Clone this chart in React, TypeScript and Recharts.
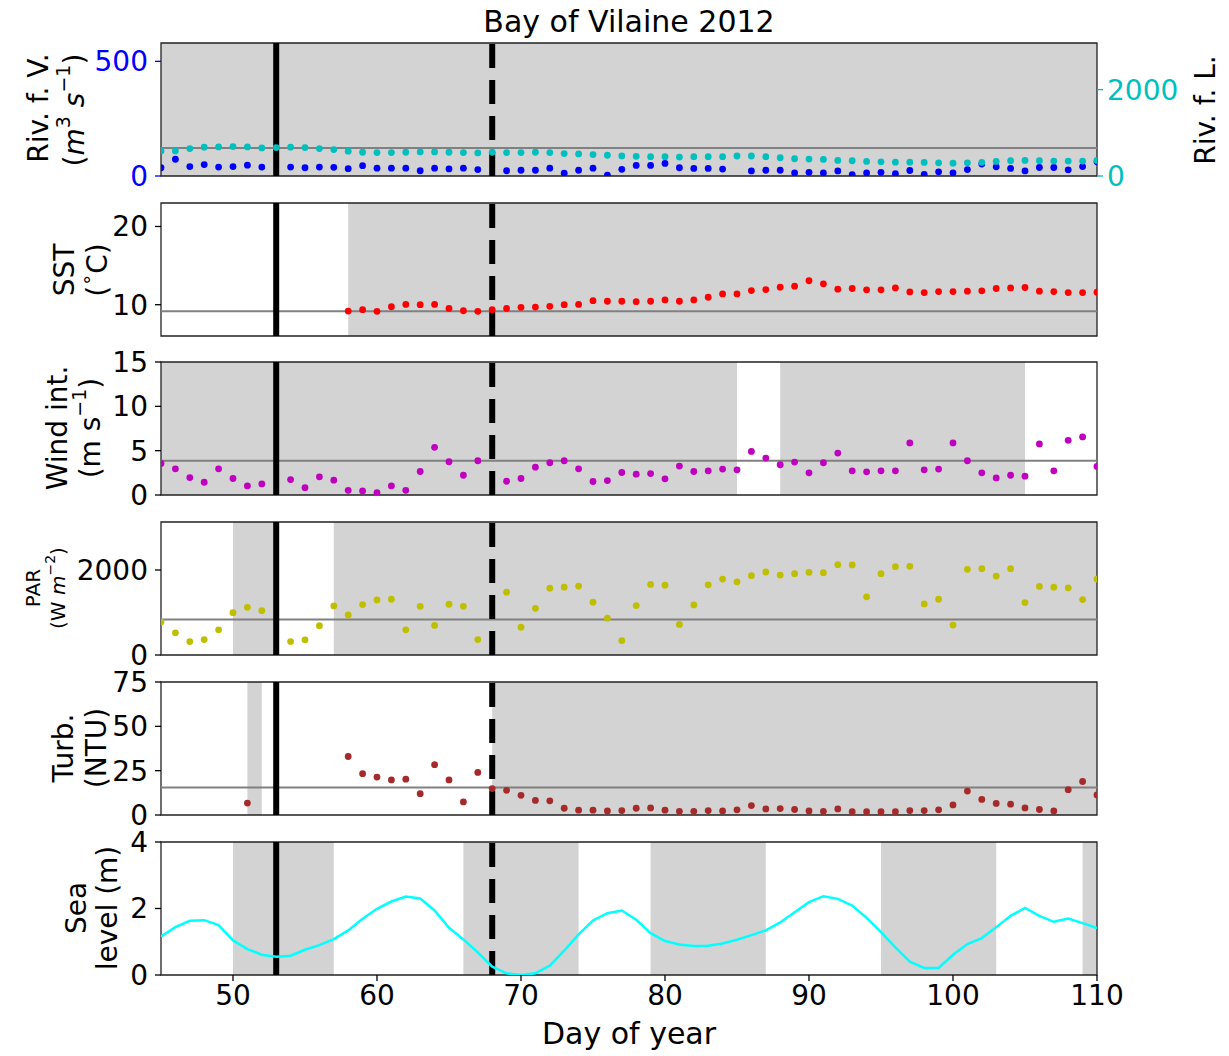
import React from 'react';
import { ComposedChart, Scatter, Line, XAxis, YAxis, ReferenceArea, ReferenceLine } from 'recharts';

const days = [45,46,47,48,49,50,51,52,53,54,55,56,57,58,59,60,61,62,63,64,65,66,67,68,69,70,71,72,73,74,75,76,77,
  78,79,80,81,82,83,84,85,86,87,88,89,90,91,92,93,94,95,96,97,98,99,100,101,102,103,104,105,106,107,108,109,110];

const riverVilaine = [36,73,41,50,39,41,47,39,null,39,36,39,38,32,45,34,34,34,23,34,31,34,28,null,23,25,25,34,12,25,34,4,29,
  46,46,55,36,33,33,30,null,22,25,25,13,16,13,22,6,13,16,10,24,7,18,13,28,52,40,33,22,37,37,27,41,62];
const riverLoire = [581,581,636,667,674,682,674,651,659,667,659,636,612,574,550,543,543,550,558,558,550,543,535,550,543,543,550,543,519,512,496,481,465,
  455,447,447,439,447,447,447,463,463,447,423,400,392,384,361,353,337,329,321,321,314,306,298,306,314,337,353,361,353,345,345,345,361];
const sst = [null,null,null,null,null,null,null,null,null,null,null,null,null,9.19,9.36,9.15,9.74,10.04,10.0,10.04,9.53,9.23,9.15,9.36,9.53,9.66,9.70,9.79,10.0,10.04,10.51,10.44,10.44,
  10.39,10.44,10.61,10.44,10.61,10.95,11.38,11.38,11.81,11.94,12.24,12.37,13.06,12.67,11.98,12.07,11.90,11.90,12.15,11.64,11.55,11.68,11.68,11.73,11.77,12.07,12.15,12.20,11.73,11.68,11.55,11.55,11.60];
const wind = [3.56,2.95,1.97,1.44,2.95,1.86,1.02,1.25,null,1.74,0.83,2.05,1.67,0.53,0.45,0.27,1.02,0.53,2.65,5.38,3.75,2.23,3.86,null,1.55,1.86,3.14,3.64,3.86,2.95,1.52,1.63,2.54,
  2.35,2.42,1.82,3.26,2.65,2.73,2.92,2.84,4.92,4.17,3.41,3.71,2.5,3.64,4.73,2.73,2.61,2.73,2.73,5.87,2.84,2.92,5.87,3.86,2.5,1.93,2.23,2.12,5.76,2.73,6.17,6.55,3.22];
const par = [775,522,316,364,593,996,1123,1043,null,316,356,688,1154,941,1186,1296,1312,593,1146,696,1194,1146,364,null,1478,656,1099,1573,1597,1621,1241,866,340,
  1162,1660,1644,719,1178,1652,1787,1723,1866,1953,1881,1913,1945,1937,2126,2119,1368,1913,2079,2087,1202,1312,704,2016,2032,1858,2032,1233,1613,1597,1581,1304,1787];
const turb = [null,null,null,null,null,null,6.7,null,null,null,null,null,null,33.0,23.3,21.4,19.8,20.2,12.0,28.4,19.8,7.4,24.0,14.9,13.9,11.1,8.2,8.0,3.8,2.7,2.7,2.3,2.5,
  3.8,4.0,2.7,2.1,2.1,2.5,2.3,2.9,5.3,3.4,3.6,3.1,2.3,2.1,3.4,1.9,1.9,1.9,1.9,2.5,2.5,2.9,5.7,13.5,8.8,6.5,6.1,4.0,3.1,2.3,14.3,18.9,11.3];
const seaLevel = [1.16,1.44,1.63,1.65,1.50,1.04,0.78,0.61,0.55,0.58,0.76,0.90,1.08,1.34,1.69,1.99,2.21,2.36,2.30,1.94,1.42,1.07,0.68,0.25,0.05,0.0,0.05,0.28,0.73,1.22,1.64,1.86,1.94,
  1.66,1.26,1.02,0.92,0.87,0.88,0.95,1.06,1.20,1.34,1.58,1.89,2.19,2.37,2.29,2.09,1.72,1.29,0.83,0.40,0.21,0.21,0.61,0.93,1.11,1.44,1.78,2.02,1.78,1.60,1.70,1.56,1.41];

const riverSpans = [[45, 110]];
const sstSpans = [[58, 110]];
const windSpans = [[45, 85], [88, 105]];
const parSpans = [[50, 53], [57, 110]];
const turbSpans = [[51, 52], [68, 110]];
const seaSpans = [[50, 57], [66, 74], [79, 87], [95, 103], [109, 110]];

const xTicks = [50, 60, 70, 80, 90, 100, 110];
const eventSolid = 53;
const eventDashed = 68;

const FONT = 'DejaVu Sans';
const W = 1229;
const PLOT_L = 161;
const PLOT_R = 1097;
const PH = 133;
const PAD = 16;

const toPts = (arr: (number | null)[]) =>
  days.map((d, i) => ({ day: d, v: arr[i] })).filter((p) => p.v !== null && p.v !== undefined);

type S = { values: (number | null)[]; color: string; kind: 'scatter' | 'line'; axis: string };

function Panel(props: {
  top: number; domain: [number, number]; ticks: number[]; spans: number[][]; mean?: number; meanAxis?: string;
  series: S[]; leftColor?: string; right?: { domain: [number, number]; ticks: number[]; color: string }; showX?: boolean;
}) {
  const { top, domain, ticks, spans, mean, meanAxis = 'L', series, leftColor = '#000', right, showX } = props;
  const height = PH + 2 * PAD + (showX ? 40 : 0);
  const margin = { top: PAD, bottom: PAD, left: PLOT_L - 60, right: right ? W - PLOT_R - 70 : W - PLOT_R };
  const dot = (color: string) => (p: any) => <circle cx={p.cx} cy={p.cy} r={3.4} fill={color} />;
  return (
    <div style={{ position: 'absolute', left: 0, top: top - PAD }}>
      <ComposedChart width={W} height={height} margin={margin}>
        <XAxis dataKey="day" type="number" domain={[45, 110]} ticks={xTicks} allowDataOverflow hide={!showX}
          height={40} axisLine={false} tickSize={6} tickMargin={4} interval={0}
          tick={{ fontSize: 28, fill: '#000', fontFamily: FONT }} tickLine={{ stroke: '#000', strokeWidth: 1.3 }} />
        <YAxis yAxisId="L" width={60} domain={domain} ticks={ticks} allowDataOverflow axisLine={false} interval={0}
          tickSize={6} tickMargin={7} tick={{ fontSize: 28, fill: leftColor, fontFamily: FONT }}
          tickLine={{ stroke: leftColor, strokeWidth: 1.3 }} />
        {right && (
          <YAxis yAxisId="R" orientation="right" width={70} domain={right.domain} ticks={right.ticks} allowDataOverflow
            axisLine={false} interval={0} tickSize={6} tickMargin={4}
            tick={{ fontSize: 28, fill: right.color, fontFamily: FONT }} tickLine={{ stroke: right.color, strokeWidth: 1.3 }} />
        )}
        {spans.map(([a, b], i) => (
          <ReferenceArea key={'s' + i} yAxisId="L" x1={a} x2={b} y1={domain[0]} y2={domain[1]} fill="#d3d3d3" fillOpacity={1} stroke="none" />
        ))}
        {mean !== undefined && <ReferenceLine yAxisId={meanAxis} y={mean} stroke="#808080" strokeWidth={2} />}
        <ReferenceLine yAxisId="L" x={eventSolid} stroke="#000" strokeWidth={6} />
        <ReferenceLine yAxisId="L" x={eventDashed} stroke="#000" strokeWidth={6} strokeDasharray="24 12" />
        {series.map((s, i) =>
          s.kind === 'scatter' ? (
            <Scatter key={'d' + i} yAxisId={s.axis} data={toPts(s.values)} dataKey="v" fill={s.color}
              shape={dot(s.color)} isAnimationActive={false} />
          ) : (
            <Line key={'d' + i} yAxisId={s.axis} data={toPts(s.values)} dataKey="v" stroke={s.color} strokeWidth={2.5}
              dot={false} isAnimationActive={false} type="linear" />
          )
        )}
        <ReferenceArea yAxisId="L" x1={45} x2={110} y1={domain[0]} y2={domain[1]} fill="none" stroke="#222" strokeWidth={1.3} />
      </ComposedChart>
    </div>
  );
}

const VLabel = ({ x, y, size = 28, children }: any) => (
  <text x={x} y={y} transform={`rotate(-90 ${x} ${y})`} textAnchor="middle" dominantBaseline="central"
    fontSize={size} fontFamily={FONT} fill="#000">{children}</text>
);

export default function App() {
  return (
    <div style={{ position: 'absolute', left: 0, top: 0, width: W, height: 1056, background: '#fff', fontFamily: FONT }}>
      <Panel top={43} domain={[0, 580]} ticks={[0, 500]} spans={riverSpans} mean={651} meanAxis="R" leftColor="#0000ff"
        right={{ domain: [0, 3080], ticks: [0, 2000], color: '#00bfbf' }}
        series={[{ values: riverVilaine, color: '#0000ff', kind: 'scatter', axis: 'L' },
                 { values: riverLoire, color: '#00bfbf', kind: 'scatter', axis: 'R' }]} />
      <Panel top={203} domain={[6, 23]} ticks={[10, 20]} spans={sstSpans} mean={9.15}
        series={[{ values: sst, color: '#ff0000', kind: 'scatter', axis: 'L' }]} />
      <Panel top={362} domain={[0, 15]} ticks={[0, 5, 10, 15]} spans={windSpans} mean={3.86}
        series={[{ values: wind, color: '#bf00bf', kind: 'scatter', axis: 'L' }]} />
      <Panel top={522} domain={[0, 3130]} ticks={[0, 2000]} spans={parSpans} mean={838}
        series={[{ values: par, color: '#bfbf00', kind: 'scatter', axis: 'L' }]} />
      <Panel top={682} domain={[0, 75]} ticks={[0, 25, 50, 75]} spans={turbSpans} mean={15.5}
        series={[{ values: turb, color: '#a52a2a', kind: 'scatter', axis: 'L' }]} />
      <Panel top={842} domain={[0, 4]} ticks={[0, 2, 4]} spans={seaSpans} showX
        series={[{ values: seaLevel, color: '#00ffff', kind: 'line', axis: 'L' }]} />
      <svg width={W} height={1056} style={{ position: 'absolute', left: 0, top: 0, pointerEvents: 'none' }}>
        <text x={629} y={32} textAnchor="middle" fontSize={30} fontFamily={FONT} fill="#000">Bay of Vilaine 2012</text>
        <text x={629} y={1044} textAnchor="middle" fontSize={30} fontFamily={FONT} fill="#000">Day of year</text>
        <VLabel x={38} y={108}>Riv. f. V.</VLabel>
        <VLabel x={74} y={110}>(<tspan fontStyle="italic">m</tspan><tspan dy={-11} fontSize={19}>3</tspan><tspan dy={11}> </tspan><tspan fontStyle="italic">s</tspan><tspan dy={-11} fontSize={19}>−1</tspan><tspan dy={11}>)</tspan></VLabel>
        <VLabel x={1205} y={110}>Riv. f. L.</VLabel>
        <VLabel x={64} y={270}>SST</VLabel>
        <VLabel x={97} y={270}>(<tspan dy={-11} fontSize={19}>∘</tspan><tspan dy={11}>C)</tspan></VLabel>
        <VLabel x={57} y={428}>Wind int.</VLabel>
        <VLabel x={90} y={428}>(m s<tspan dy={-11} fontSize={19}>−1</tspan><tspan dy={11}>)</tspan></VLabel>
        <VLabel x={33} y={588} size={20}>PAR</VLabel>
        <VLabel x={58} y={588} size={20}>(W <tspan fontStyle="italic">m</tspan><tspan dy={-8} fontSize={14}>−2</tspan><tspan dy={8}>)</tspan></VLabel>
        <VLabel x={63} y={748}>Turb.</VLabel>
        <VLabel x={96} y={748}>(NTU)</VLabel>
        <VLabel x={76} y={908}>Sea</VLabel>
        <VLabel x={107} y={908}>level (m)</VLabel>
      </svg>
    </div>
  );
}
